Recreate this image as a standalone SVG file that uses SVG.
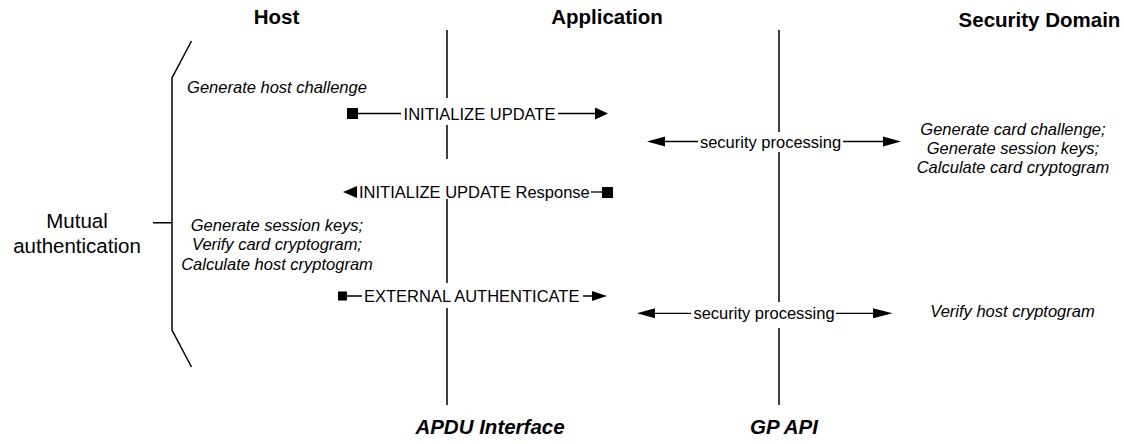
<svg xmlns="http://www.w3.org/2000/svg" width="1124" height="444" viewBox="0 0 1124 444">
<style>
text{font-family:"Liberation Sans",Arial,sans-serif;fill:#000}
.hdr{font-size:20.5px;font-weight:bold}
.ftr{font-size:20.5px;font-weight:bold;font-style:italic}
.lbl{font-size:16.5px}
.note{font-size:16.5px;font-style:italic}
.big{font-size:20.5px}
.ln{stroke:#000;stroke-width:1.5;fill:none}
.cn{stroke:#000;stroke-width:1.3;fill:none}
.hd{fill:#000}
</style>
<rect width="1124" height="444" fill="#fff"/>
<g id="host">
<text class="hdr" x="276.5" y="24" text-anchor="middle">Host</text>
</g>
<g id="application">
<text class="hdr" x="607" y="24" text-anchor="middle">Application</text>
</g>
<g id="security-domain">
<text class="hdr" x="1039.5" y="27" text-anchor="middle">Security Domain</text>
</g>
<g id="apdu-interface">
<path class="ln" d="M447,30V98M447,125V159M447,199V283M447,308V405"/>
<text class="ftr" x="490" y="434" text-anchor="middle">APDU Interface</text>
</g>
<g id="gp-api">
<path class="ln" d="M779,30V132M779,152V302M779,328V405"/>
<text class="ftr" x="784" y="434" text-anchor="middle">GP API</text>
</g>
<g id="mutual-authentication">
<path class="ln" d="M191.5,41L172,78V330L191.5,367M153,222.7H172"/>
<text class="big" x="77" y="228" text-anchor="middle">Mutual</text>
<text class="big" x="77" y="253" text-anchor="middle">authentication</text>
</g>
<g id="host-notes">
<text class="note" x="277" y="93" text-anchor="middle">Generate host challenge</text>
<text class="note" x="277" y="230.5" text-anchor="middle">Generate session keys;</text>
<text class="note" x="277" y="250" text-anchor="middle">Verify card cryptogram;</text>
<text class="note" x="277" y="269.5" text-anchor="middle">Calculate host cryptogram</text>
</g>
<g id="sd-notes">
<text class="note" x="1013" y="134.5" text-anchor="middle">Generate card challenge;</text>
<text class="note" x="1013" y="153.5" text-anchor="middle">Generate session keys;</text>
<text class="note" x="1013" y="172.5" text-anchor="middle">Calculate card cryptogram</text>
<text class="note" x="1012.5" y="317" text-anchor="middle">Verify host cryptogram</text>
</g>
<g id="connectors">
<g id="initialize-update">
<rect class="hd" x="347" y="108" width="11" height="11"/>
<path class="cn" d="M358,113.5H401M558,113.5H596"/>
<polygon class="hd" points="595,107.5 608,113.5 595,119.5"/>
<text class="lbl" x="479.5" y="119.5" text-anchor="middle">INITIALIZE UPDATE</text>
</g>
<g id="initialize-update-response">
<polygon class="hd" points="357,186 343,192 357,198"/>
<path class="cn" d="M591,192H602"/>
<rect class="hd" x="602" y="187" width="11" height="11"/>
<text class="lbl" x="359" y="198" text-anchor="start">INITIALIZE UPDATE Response</text>
</g>
<g id="external-authenticate">
<rect class="hd" x="338" y="291.5" width="9" height="9"/>
<path class="cn" d="M347,296H362M583,296H593"/>
<polygon class="hd" points="592,291 607,296 592,301"/>
<text class="lbl" x="364" y="302" text-anchor="start">EXTERNAL AUTHENTICATE</text>
</g>
<g id="security-processing-1">
<polygon class="hd" points="665,136.5 647,141.5 665,146.5"/>
<path class="cn" d="M665,141.5H698M843,141.5H884"/>
<polygon class="hd" points="883,136.5 901,141.5 883,146.5"/>
<text class="lbl" x="770.5" y="147.5" text-anchor="middle">security processing</text>
</g>
<g id="security-processing-2">
<polygon class="hd" points="655,308.3 637,313.3 655,318.3"/>
<path class="cn" d="M655,313.3H691M836,313.3H874"/>
<polygon class="hd" points="873,308.3 892.5,313.3 873,318.3"/>
<text class="lbl" x="764" y="319.3" text-anchor="middle">security processing</text>
</g>
</g>
</svg>
